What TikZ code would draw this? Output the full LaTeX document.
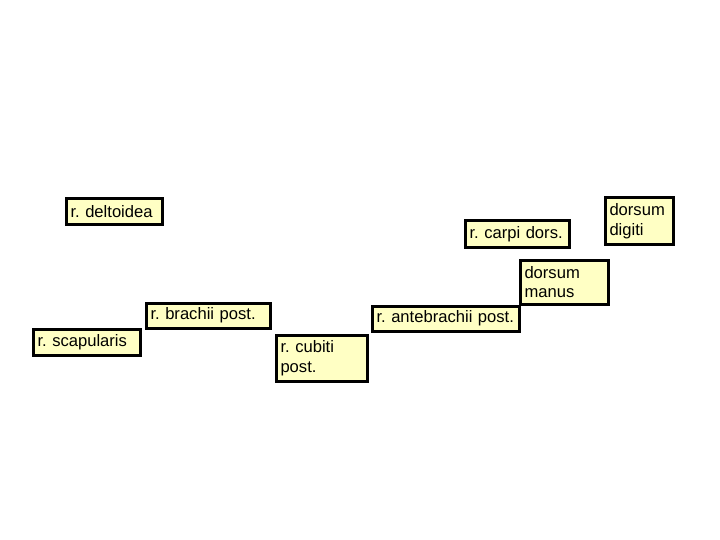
\documentclass[tikz,border=0pt]{standalone}
\usepackage{fontspec}
\setmainfont{Liberation Sans}
\definecolor{boxfill}{HTML}{FFFFC4}
\frenchspacing
\begin{document}
\begin{tikzpicture}[x=1pt,y=-1pt,
  lbl/.style={draw=black, line width=3pt, fill=boxfill, anchor=north west,
    inner xsep=4.5pt, inner ysep=0pt, align=left,
    font=\fontsize{16.6}{19.5}\selectfont\frenchspacing}]
\useasboundingbox (0,0) rectangle (720,540);
\node[lbl, text width=87pt, minimum height=26pt] (deltoidea) at (64.5,197.5) {r. deltoidea};
\node[lbl, text width=95pt, minimum height=26pt] (carpi) at (463.5,219.5) {r. carpi dors.};
\node[lbl, text width=59pt, minimum height=46pt] (digiti) at (603.5,196.5) {dorsum\\digiti};
\node[lbl, text width=115pt, minimum height=25pt] (brachii) at (144.5,301.5) {r. brachii post.};
\node[lbl, text width=138pt, minimum height=25pt] (antebrachii) at (370.5,304.5) {r. antebrachii post.};
\node[lbl, text width=79pt, minimum height=44pt] (manus) at (518.5,258.5) {dorsum\\manus};
\node[lbl, text width=98pt, minimum height=26pt] (scapularis) at (31.5,327.5) {r. scapularis};
\node[lbl, text width=82pt, minimum height=46pt] (cubiti) at (274.5,333.5) {r. cubiti\\post.};
\end{tikzpicture}
\end{document}
